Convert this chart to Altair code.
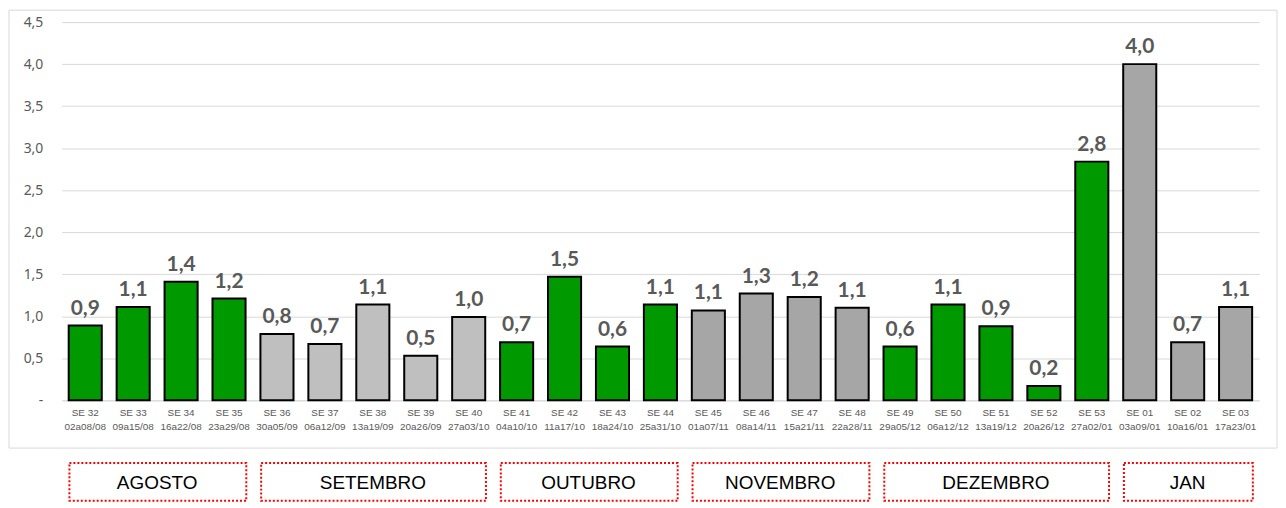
import altair as alt
import pandas as pd

# ---------------- data ----------------
weeks = ["SE 32", "SE 33", "SE 34", "SE 35", "SE 36", "SE 37", "SE 38", "SE 39", "SE 40",
         "SE 41", "SE 42", "SE 43", "SE 44", "SE 45", "SE 46", "SE 47", "SE 48", "SE 49",
         "SE 50", "SE 51", "SE 52", "SE 53", "SE 01", "SE 02", "SE 03"]
dates = ["02a08/08", "09a15/08", "16a22/08", "23a29/08", "30a05/09", "06a12/09", "13a19/09",
         "20a26/09", "27a03/10", "04a10/10", "11a17/10", "18a24/10", "25a31/10", "01a07/11",
         "08a14/11", "15a21/11", "22a28/11", "29a05/12", "06a12/12", "13a19/12", "20a26/12",
         "27a02/01", "03a09/01", "10a16/01", "17a23/01"]
values = [0.89, 1.11, 1.41, 1.21, 0.79, 0.67, 1.14, 0.53, 0.99, 0.69, 1.47, 0.64, 1.14,
          1.07, 1.27, 1.23, 1.10, 0.64, 1.14, 0.88, 0.17, 2.84, 4.00, 0.69, 1.11]
groups = ["verde"] * 4 + ["claro"] * 5 + ["verde"] * 4 + ["escuro"] * 4 + ["verde"] * 5 + ["escuro"] * 3

months = ["AGOSTO", "SETEMBRO", "OUTUBRO", "NOVEMBRO", "DEZEMBRO", "JAN"]
month_first = ["SE 32", "SE 36", "SE 41", "SE 45", "SE 49", "SE 01"]
month_last = ["SE 35", "SE 40", "SE 44", "SE 48", "SE 53", "SE 03"]

cats = [w + "\n" + d for w, d in zip(weeks, dates)]
df = pd.DataFrame({"cat": cats, "val": values, "grp": groups})
mdf = pd.DataFrame({
    "mes": months,
    "i0": [weeks.index(m) for m in month_first],
    "i1": [weeks.index(m) for m in month_last],
})

# ---------------- layout ----------------
W, H = 1203, 380
PI, PO = 0.31, 0.145
n = len(weeks)
a = -(PO + (1 - PI) / 2)
b = a + n - PI + 2 * PO

xband = alt.Scale(paddingInner=PI, paddingOuter=PO)
yscale = alt.Scale(domain=[0, 4.5], nice=False)
NB = "\u00a0"


def comma_expr(v):
    return ("floor(round(" + v + " * 10) / 10) + ',' + (round(" + v + " * 10) % 10)")


yaxis = alt.Axis(
    values=[0, 0.5, 1, 1.5, 2, 2.5, 3, 3.5, 4, 4.5],
    labelExpr="datum.value == 0 ? '-" + NB * 3 + "' : " + comma_expr("datum.value"),
    grid=True, gridColor="#D9D9D9", gridWidth=1, domain=False, ticks=False,
    labelPadding=19, labelFontSize=14, labelFont="Noto Sans", labelColor="#595959", title=None,
)
xaxis = alt.Axis(
    labelExpr="split(datum.label, '\\n')", labelAngle=0, labelFont="Liberation Sans",
    labelFontSize=10, labelColor="#595959", labelLineHeight=14, labelPadding=7,
    ticks=False, domainColor="#D9D9D9", domainWidth=1, title=None, grid=False,
)

frame = alt.Chart(pd.DataFrame({"k": [0]})).mark_rect(
    fillOpacity=0, stroke="#D9D9D9", strokeWidth=1
).encode(
    x=alt.value(-53), x2=alt.value(1221), y=alt.value(-12), y2=alt.value(428)
)

bars = alt.Chart(df).mark_bar(stroke="black", strokeWidth=2).encode(
    x=alt.X("cat:N", sort=cats, scale=xband, axis=xaxis),
    y=alt.Y("val:Q", scale=yscale, axis=yaxis),
    color=alt.Color("grp:N", scale=alt.Scale(domain=["verde", "claro", "escuro"],
                                             range=["#009900", "#BFBFBF", "#A6A6A6"]),
                    legend=None),
)

labels = alt.Chart(df).transform_calculate(
    lab=comma_expr("datum.val")
).mark_text(
    baseline="bottom", dy=-7, font="Lato", fontWeight="bold", fontSize=21, color="#595959"
).encode(
    x=alt.X("cat:N", sort=cats, scale=xband),
    y=alt.Y("val:Q", scale=yscale),
    text="lab:N",
)

qx = alt.Scale(domain=[a, b], nice=False, zero=False)
boxes = alt.Chart(mdf).transform_calculate(
    xa="datum.i0 - 0.33", xb="datum.i1 + 0.36"
).mark_rect(
    fillOpacity=0, stroke="#FF0000", strokeWidth=2, strokeDash=[2, 2]
).encode(
    x=alt.X("xa:Q", scale=qx, axis=None), x2="xb:Q",
    y=alt.value(443), y2=alt.value(481),
)
mtext = alt.Chart(mdf).transform_calculate(
    xm="(datum.i0 + datum.i1) / 2"
).mark_text(
    font="Liberation Sans", fontSize=19, color="black", baseline="middle"
).encode(
    x=alt.X("xm:Q", scale=qx, axis=None),
    y=alt.value(463),
    text="mes:N",
)

chart = alt.layer(
    frame,
    alt.layer(bars, labels),
    alt.layer(boxes, mtext),
).resolve_scale(x="independent").properties(
    width=W, height=H, padding=0
).configure_view(strokeWidth=0)

chart.save("out.html", embed_options={"renderer": "svg", "actions": False})
